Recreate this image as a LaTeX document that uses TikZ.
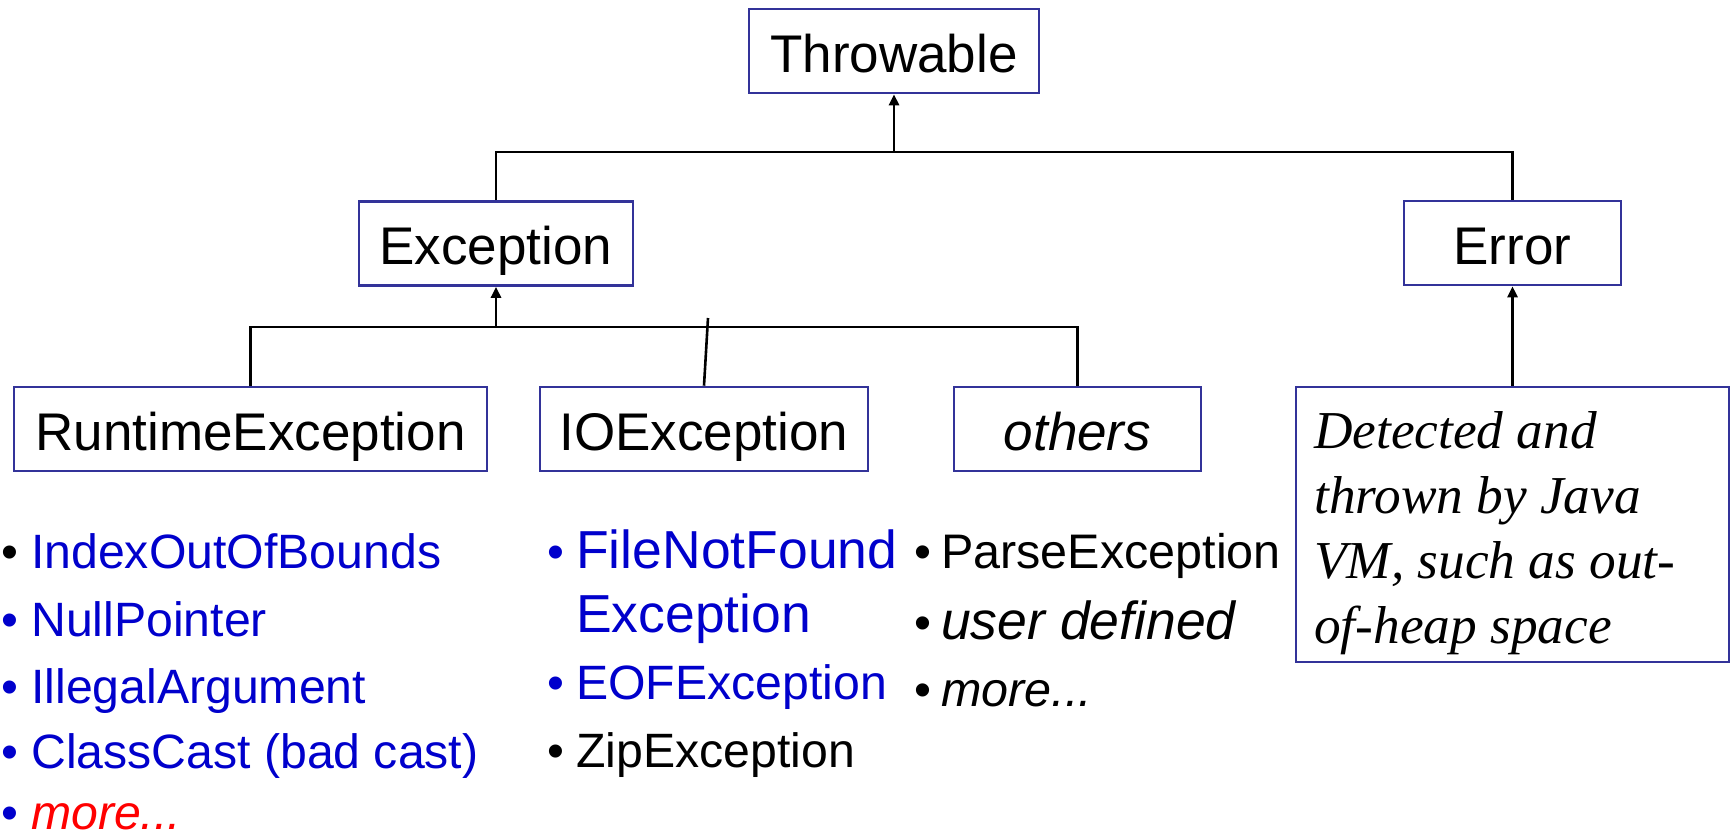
\documentclass[tikz,border=0pt]{standalone}
\usepackage{fontspec}
\setmainfont{Liberation Sans}
\newfontfamily\timesfont{Liberation Serif}
\usetikzlibrary{arrows.meta}
\definecolor{boxblue}{RGB}{51,51,153}
\definecolor{itemblue}{RGB}{0,0,204}
\definecolor{itemred}{RGB}{255,0,0}
% bullet hung to the left of an item, #1 = bullet colour, #2 = gap before the text
\newcommand{\bul}[2]{\llap{\textcolor{#1}{•}\hspace{#2}}}
\newcommand{\sz}[1]{\fontsize{#1}{64pt}\selectfont}

\begin{document}
\begin{tikzpicture}[x=1pt,y=-1pt,
  classbox/.style={draw=boxblue, line width=2.6pt, inner sep=0pt,
    minimum height=84pt, text height=42pt, text depth=0pt,
    font=\fontsize{53pt}{64pt}\selectfont},
  link/.style={line width=2.6pt, draw=black},
  uparrow/.style={link, -{Triangle[length=11pt,width=10pt]}},
  item/.style={anchor=base west, inner sep=0pt},
  rtlist/.style={item, font=\fontsize{48.2pt}{67pt}\selectfont},
  iolist/.style={item, font=\fontsize{48.2pt}{64pt}\selectfont},
  otlist/.style={item, font=\fontsize{48.5pt}{67pt}\selectfont}]

\useasboundingbox (0,0) rectangle (1733,836);

% class boxes
\node[classbox, minimum width=290pt] (throwable) at (894,51) {Throwable};
\node[classbox, minimum width=274pt] (exception) at (496,243.5) {Exception};
\node[classbox, minimum width=217pt] (error) at (1512.5,243) {Error};
\node[classbox, minimum width=473pt] (runtime) at (250.5,429) {RuntimeException};
\node[classbox, minimum width=328pt] (ioexc) at (704,429) {IOException};
\node[classbox, minimum width=247pt] (others) at (1077.5,429) {\itshape others};

% description of Error
\node[draw=boxblue, line width=2.6pt, inner sep=0pt,
      minimum width=433pt, minimum height=275pt] (vmbox) at (1512.5,524.5) {};
\node[item, font=\timesfont\itshape\fontsize{53.3pt}{65pt}\selectfont] (vmtext) at (1314,448)
  {\parbox[t]{410pt}{\raggedright Detected and\\thrown by Java\\VM, such as out-\\of-heap space}};

% bus points
\coordinate (thrbus) at (894,152);
\coordinate (excbusT) at (496,152);
\coordinate (errbusT) at (1512.5,152);
\coordinate (excbus) at (496,327);
\coordinate (rtbus) at (250.5,327);
\coordinate (otbus) at (1077.5,327);
\coordinate (iotip) at (708,318);

% connectors
\draw[link] (exception.north) -- (excbusT) -- (errbusT) -- (error.north);
\draw[uparrow] (thrbus) -- (throwable.south);
\draw[link] (runtime.north) -- (rtbus) -- (otbus) -- (others.north);
\draw[uparrow] (excbus) -- (exception.south);
\draw[link] (ioexc.north) -- (iotip);
\draw[uparrow] (vmbox.north) -- (error.south);

% RuntimeException examples
\node[rtlist] (rt1) at (31,568) {\bul{black}{12.8pt}\textcolor{itemblue}{IndexOutOfBounds}};
\node[rtlist] (rt2) at (31,636) {\bul{itemblue}{12.8pt}\textcolor{itemblue}{NullPointer}};
\node[rtlist] (rt3) at (31,703) {\bul{itemblue}{12.8pt}\textcolor{itemblue}{IllegalArgument}};
\node[rtlist] (rt4) at (31,768) {\bul{itemblue}{12.8pt}\textcolor{itemblue}{ClassCast (bad cast)}};
\node[rtlist] (rt5) at (31,829) {\bul{itemblue}{12.8pt}\textcolor{itemred}{\itshape more...}};

% IOException examples
\node[iolist] (io1) at (576,568) {\bul{itemblue}{11.8pt}{\color{itemblue}\sz{53.5pt}\parbox[t]{340pt}{FileNotFound\\Exception}}};
\node[iolist] (io2) at (576,699) {\bul{itemblue}{11.8pt}\textcolor{itemblue}{EOFException}};
\node[iolist] (io3) at (576,767) {\bul{black}{11.8pt}ZipException};

% other exceptions
\node[otlist] (ot1) at (941,568) {\bul{black}{10pt}ParseException};
\node[otlist] (ot2) at (941,639) {\bul{black}{10pt}\itshape\sz{53.5pt}user defined};
\node[otlist] (ot3) at (941,706) {\bul{black}{10pt}\itshape more...};
\end{tikzpicture}
\end{document}
